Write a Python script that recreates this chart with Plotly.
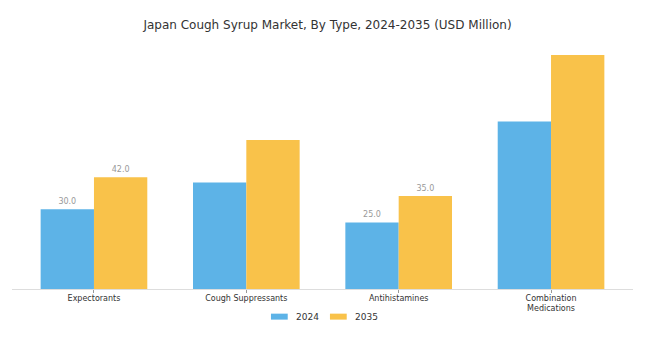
import plotly.graph_objects as go

# Market size by product type (USD Million)
categories = ["Expectorants", "Cough Suppressants", "Antihistamines", "Combination<br>Medications"]
values_2024 = [30.0, 40.0, 25.0, 63.0]
values_2035 = [42.0, 56.0, 35.0, 88.0]
# Value labels are printed only for some groups
show_label = [True, False, True, False]
series_names = ["2024", "2035"]
colors = ["#5DB3E7", "#F9C24A"]

FONT = "DejaVu Sans"


def labels(vals):
    return [f"{v:.1f}" if s else "" for v, s in zip(vals, show_label)]


fig = go.Figure()
for name, vals, col in zip(series_names, [values_2024, values_2035], colors):
    fig.add_trace(go.Bar(
        x=categories, y=vals, name=name,
        marker=dict(color=col, line=dict(width=0)),
        text=labels(vals), textposition="outside",
        textfont=dict(family=FONT, size=8, color="#999999"),
        cliponaxis=False, showlegend=False,
    ))

# Legend drawn as wide swatches beneath the axis
legend_x = [0.417, 0.512]
for name, col, lx in zip(series_names, colors, legend_x):
    fig.add_shape(type="rect", xref="paper", yref="paper",
                  x0=lx, x1=lx + 0.027, y0=-0.123, y1=-0.099,
                  fillcolor=col, line=dict(width=0))
    fig.add_annotation(text=name, xref="paper", yref="paper",
                       x=lx + 0.037, y=-0.111, xanchor="left", yanchor="middle",
                       showarrow=False, font=dict(family=FONT, size=9, color="#333333"))

fig.update_layout(
    width=655, height=343,
    margin=dict(l=12, r=22, t=40, b=54),
    paper_bgcolor="white", plot_bgcolor="white",
    barmode="group", bargap=0.3, bargroupgap=0,
    title=dict(text="Japan Cough Syrup Market, By Type, 2024-2035 (USD Million)",
               x=0.5, xanchor="center", y=0.927, yanchor="middle",
               font=dict(family=FONT, size=12, color="#333333")),
    font=dict(family=FONT),
)
fig.update_xaxes(
    range=[-0.538, 3.538], showline=True, linecolor="#DDDDDD", linewidth=1,
    ticks="outside", ticklen=3, tickcolor="#999999", ticklabelstandoff=-2,
    tickfont=dict(family=FONT, size=8, color="#333333"),
    showgrid=False, zeroline=False,
)
fig.update_yaxes(range=[0, 93.6], visible=False, showgrid=False, zeroline=False)

fig.write_html("out.html")
